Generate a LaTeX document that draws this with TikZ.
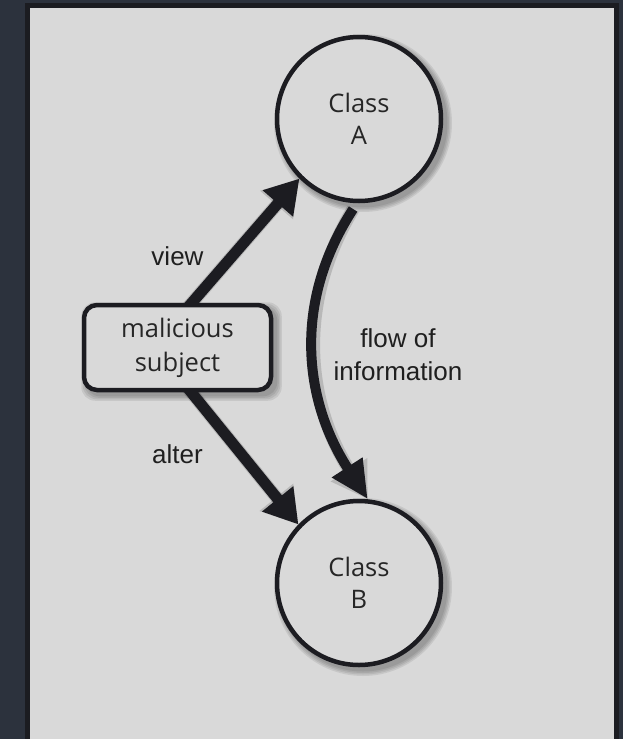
\documentclass[tikz,border=0pt]{standalone}
\usepackage{fontspec}
\usetikzlibrary{arrows.meta,calc}
\newfontfamily\nodefont{Open Sans}
\newfontfamily\labelfont{Liberation Sans}
\definecolor{pagebg}{HTML}{2C323D}
\definecolor{frame}{HTML}{1B1C21}
\definecolor{panel}{HTML}{D9D9D9}
\definecolor{ink}{HTML}{1C1C21}
\definecolor{txt}{HTML}{262626}
\pgfdeclarelayer{back}
\pgfdeclarelayer{mid}
\pgfsetlayers{back,mid,main}
\tikzset{
  shapeline/.style={draw=ink, line width=4.5pt, fill=panel},
  classnode/.style={shapeline, circle, minimum size=164pt, inner sep=0pt,
    align=center, text=txt, font=\nodefont\fontsize{25.5}{32}\selectfont},
  subjectnode/.style={shapeline, rectangle, rounded corners=13pt, minimum width=187pt,
    minimum height=85pt, inner sep=0pt, align=center, text=txt,
    font=\nodefont\fontsize{25.5}{34}\selectfont},
  edgelabel/.style={text=black!88, font=\labelfont\fontsize{26}{33}\selectfont, align=center},
  bigarrow/.style={draw=ink, line width=11pt, -{Triangle[length=33pt,width=38pt]}},
  flowarrow/.style={draw=ink, line width=10pt, -{Triangle[length=38pt,width=34pt]}},
  arrowshade/.style={draw=black, draw opacity=0.15, line width=13pt,
    -{Triangle[length=35pt,width=41pt]}, shift={(3,3)}},
  softshade/.style={fill=black, fill opacity=0.08, draw=none}
}
\begin{document}
\begin{tikzpicture}[x=1pt,y=-1pt]
  \useasboundingbox (0,0) rectangle (623,739);
  % page, framed panel
  \begin{pgfonlayer}{back}
    \fill[pagebg] (0,0) rectangle (623,739);
    \fill[frame] (24.5,2.5) rectangle (619,745);
    \fill[panel] (30,8) rectangle (613.5,745);
  \end{pgfonlayer}

  % nodes
  \node[classnode] (A) at (359,119) {Class\\A};
  \node[classnode] (B) at (359,583) {Class\\B};
  \node[subjectnode] (M) at (177.5,347.5) {malicious\\subject};

  % soft shadows and connectors, kept behind the nodes
  \begin{pgfonlayer}{mid}
    \foreach \n in {A,B}{
      \foreach \r in {89,87.5,86,84.5}{
        \fill[softshade] ($(\n.center)+(4,4)$) circle[radius=\r];
      }
    }
    \foreach \g in {4.5,3,1.5,0}{
      \fill[softshade, rounded corners=14pt]
        ($(M.north west)+(4-\g,4-\g)$) rectangle ($(M.south east)+(4+\g,4+\g)$);
    }
    \draw[arrowshade] ($(M.north)+(4,12)$) -- (A.225);
    \draw[bigarrow] ($(M.north)+(4,12)$) -- (A.225);
    \draw[arrowshade] ($(M.south)+(4,-12)$) -- (B.136);
    \draw[bigarrow] ($(M.south)+(4,-12)$) -- (B.136);
    \draw[arrowshade] ($(A.266)+(0,6)$) .. controls (292,303) and (304,401) .. (B.84);
    \draw[flowarrow] ($(A.266)+(0,6)$) .. controls (292,303) and (304,401) .. (B.84);
  \end{pgfonlayer}

  % edge labels
  \node[edgelabel, anchor=base] (lview) at (177.5,265) {view};
  \node[edgelabel, anchor=base] (lalter) at (177.5,463) {alter};
  \node[edgelabel] (lflow) at (398,355) {flow of\\information};
\end{tikzpicture}
\end{document}
